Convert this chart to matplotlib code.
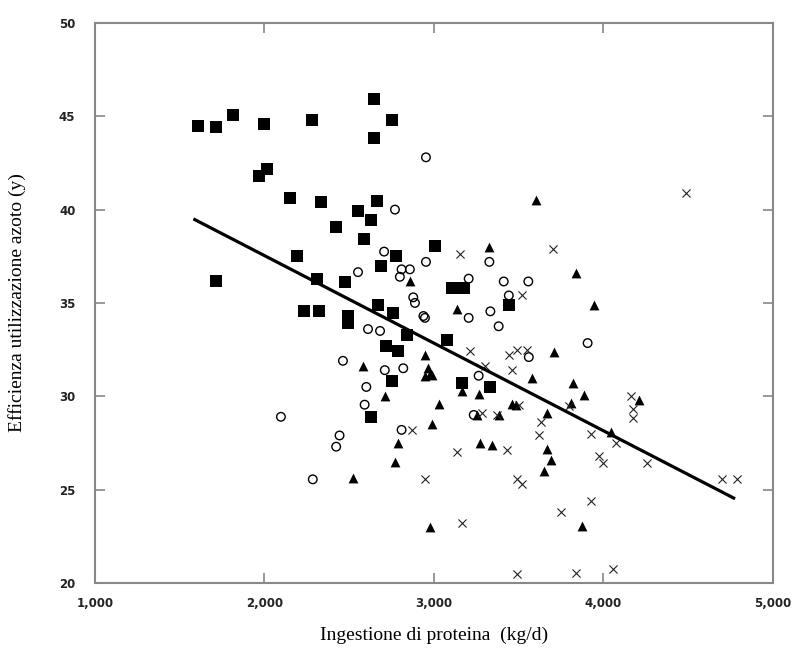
import numpy as np
import matplotlib
matplotlib.use('Agg')
import matplotlib.pyplot as plt
from matplotlib.ticker import FuncFormatter

# quadrati pieni
sq_x = [1607, 1716, 1814, 2001, 2284, 2650, 2753, 2650, 2013, 1969, 2151, 2334, 2666, 2553,
        2628, 2424, 2586, 3008, 2191, 1716, 2312, 2478, 2691, 2780, 2236, 2325, 2494, 2494,
        2672, 2761, 2840, 2721, 2790, 2751, 2632, 3107, 3176, 3443, 3077, 3166, 3334]
sq_y = [44.5, 44.4, 45.07, 44.6, 44.8, 45.9, 44.8, 43.85, 42.2, 41.8, 40.6, 40.4, 40.45, 39.95,
        39.45, 39.07, 38.4, 38.06, 37.5, 36.15, 36.3, 36.1, 37.0, 37.5, 34.55, 34.55, 33.9, 34.3,
        34.9, 34.45, 33.3, 32.7, 32.4, 30.8, 28.9, 35.8, 35.8, 34.9, 33.0, 30.7, 30.5]

# cerchi vuoti
ci_x = [2954, 2771, 2707, 2954, 2553, 2810, 2859, 2800, 2879, 3328, 3206, 3413, 3558, 3443,
        2889, 2948, 3206, 3334, 3383, 3908, 3561, 3265, 3236, 2939, 2612, 2683, 2711, 2820,
        2464, 2602, 2592, 2098, 2444, 2424, 2286, 2810]
ci_y = [42.8, 40.0, 37.75, 37.2, 36.65, 36.8, 36.8, 36.4, 35.3, 37.2, 36.3, 36.15, 36.15, 35.4,
        35.0, 34.2, 34.2, 34.55, 33.75, 32.85, 32.1, 31.1, 29.0, 34.3, 33.6, 33.5, 31.4, 31.5,
        31.9, 30.5, 29.55, 28.9, 27.9, 27.3, 25.55, 28.2]

# triangoli pieni
tr_x = [3601, 3324, 3838, 3948, 3137, 3712, 2948, 3582, 3819, 3888, 2978, 3028, 3166, 3265,
        3463, 3671, 3809, 4047, 4214, 2988, 3275, 3344, 3671, 3691, 3651, 3255, 3383, 3483,
        2978, 3873, 2582, 2711, 2790, 2771, 2523, 2968, 2948, 2859, 2988]
tr_y = [40.5, 38.0, 36.6, 34.9, 34.7, 32.35, 32.2, 31.0, 30.7, 30.05, 31.2, 29.6, 30.3, 30.1,
        29.6, 29.1, 29.65, 28.1, 29.8, 28.5, 27.5, 27.4, 27.2, 26.6, 26.0, 29.0, 29.0, 29.55,
        23.0, 23.05, 31.6, 30.0, 27.5, 26.5, 25.6, 31.5, 31.1, 36.15, 31.15]

# croci
cr_x = [3154, 3705, 4491, 3522, 3216, 3443, 3493, 3552, 3463, 3305, 3799, 3928, 4076, 3977,
        3997, 4175, 4175, 4165, 4261, 4700, 4789, 3137, 3433, 3620, 2948, 3522, 3493, 3928,
        3750, 3166, 3493, 3838, 4056, 2870, 3285, 3374, 3502, 3631]
cr_y = [37.6, 37.9, 40.9, 35.4, 32.4, 32.2, 32.5, 32.5, 31.4, 31.6, 29.5, 28.0, 27.5, 26.8,
        26.4, 29.3, 28.85, 30.0, 26.4, 25.55, 25.55, 27.0, 27.1, 27.9, 25.55, 25.3, 25.55, 24.4,
        23.8, 23.2, 20.5, 20.55, 20.75, 28.2, 29.1, 29.0, 29.55, 28.6]

# retta di regressione
fit_slope = -0.00469
fit_intercept = 46.92
fit_x = [1590, 4770]

fig = plt.figure(figsize=(8.04, 6.55), dpi=100)
ax = fig.add_axes([0.118, 0.110, 0.843, 0.855])

ax.scatter(sq_x, sq_y, marker='s', s=64, c='black', linewidths=0)
ax.scatter(ci_x, ci_y, marker='o', s=38, facecolors='none', edgecolors='black', linewidths=1.0)
ax.scatter(tr_x, tr_y, marker='^', s=50, c='black', linewidths=0)
ax.scatter(cr_x, cr_y, marker='x', s=34, c='#222222', linewidths=0.8)

fx = np.array(fit_x)
ax.plot(fx, fit_slope * fx + fit_intercept, color='black', linewidth=2.3)

ax.set_xlim(1000, 5000)
ax.set_ylim(20, 50)
ax.set_xticks([1000, 2000, 3000, 4000, 5000])
ax.set_yticks([20, 25, 30, 35, 40, 45, 50])
ax.xaxis.set_major_formatter(FuncFormatter(lambda v, p: f'{int(v):,}'))
ax.tick_params(direction='in', length=7, width=1.2, color='#888888',
               top=True, right=True, labelsize=8.5)
for lab in ax.get_xticklabels() + ax.get_yticklabels():
    lab.set_fontweight('bold')
    lab.set_color('#222222')
ax.tick_params(axis='x', pad=10)
ax.tick_params(axis='y', pad=14)
for sp in ax.spines.values():
    sp.set_color('#888888')
    sp.set_linewidth(1.5)

ax.set_xlabel('Ingestione di proteina  (kg/d)', family='Liberation Serif', fontsize=14, labelpad=12)
ax.set_ylabel('Efficienza utilizzazione azoto (y)', family='Liberation Serif', fontsize=14, labelpad=24)

fig.savefig('out.png', dpi=100)
